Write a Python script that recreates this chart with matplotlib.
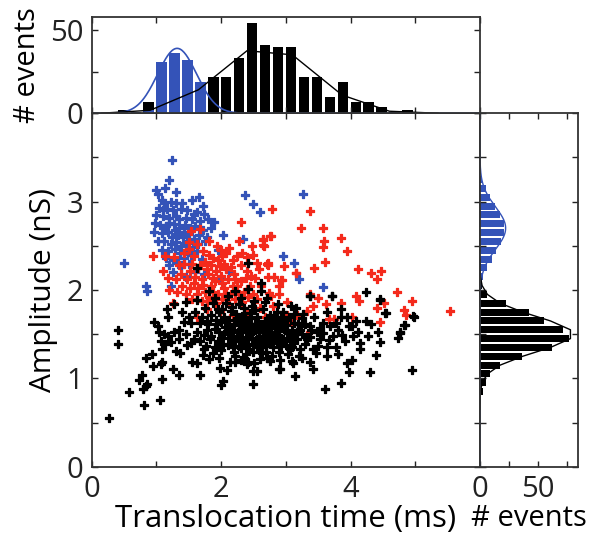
import numpy as np
import matplotlib.pyplot as plt

plt.rcParams['font.family'] = ['Open Sans', 'DejaVu Sans']

# translocation time (ms), amplitude (nS) for each event
blue_events = np.array([
    (1.24, 3.47), (1.19, 3.25), (1.00, 3.13), (1.02, 3.09), (1.14, 3.16), (1.31, 3.11),
    (1.08, 3.02), (1.12, 2.98), (1.22, 3.00), (1.30, 2.99), (1.40, 2.98), (1.55, 3.02),
    (1.66, 3.05), (1.04, 2.93), (1.16, 2.92), (1.25, 2.90), (1.38, 2.92), (1.48, 2.90),
    (1.62, 2.88), (1.74, 2.86), (1.72, 2.95), (1.00, 2.85), (1.10, 2.84), (1.20, 2.82),
    (1.30, 2.84), (1.45, 2.82), (1.55, 2.80), (1.68, 2.78), (1.80, 2.80), (0.98, 2.76),
    (1.06, 2.74), (1.15, 2.72), (1.27, 2.75), (1.35, 2.70), (1.44, 2.74), (1.52, 2.70),
    (1.60, 2.72), (1.72, 2.68), (1.89, 2.77), (1.85, 2.70), (0.97, 2.66), (1.09, 2.64),
    (1.18, 2.66), (1.24, 2.60), (1.33, 2.62), (1.41, 2.60), (1.50, 2.63), (1.58, 2.58),
    (1.66, 2.62), (1.78, 2.60), (1.02, 2.56), (1.12, 2.55), (1.22, 2.52), (1.30, 2.54),
    (1.38, 2.50), (1.47, 2.53), (1.56, 2.49), (1.64, 2.52), (1.75, 2.55), (1.08, 2.45),
    (1.18, 2.44), (1.28, 2.46), (1.36, 2.42), (1.45, 2.44), (1.54, 2.40), (1.62, 2.44),
    (1.15, 2.36), (1.25, 2.34), (1.33, 2.32), (1.42, 2.36), (1.50, 2.30), (1.20, 2.28),
    (1.38, 2.26), (2.03, 2.62), (2.34, 2.58), (2.37, 3.08), (2.49, 2.97), (2.60, 2.88),
    (3.27, 3.09), (2.95, 2.38), (3.12, 2.31), (3.21, 2.13), (3.57, 2.03), (0.50, 2.31),
    (0.85, 1.99), (1.95, 2.45), (1.60, 2.20), (1.70, 2.35), (2.12, 2.20), (1.98, 2.12),
    (1.25, 2.20), (1.45, 2.15), (1.10, 2.90), (1.35, 2.80), (1.28, 2.68), (1.42, 2.66),
    (1.20, 2.76), (1.58, 2.86), (1.12, 2.70), (1.48, 2.56), (0.84, 2.05), (1.22, 2.05),
    (1.74, 2.18),
])

red_events = np.array([
    (2.78, 2.92), (3.37, 2.89), (3.23, 2.70), (3.58, 2.70), (3.85, 2.59), (3.59, 2.55),
    (3.57, 2.49), (3.95, 2.44), (3.60, 2.32), (3.43, 2.25), (2.97, 2.27), (3.16, 2.19),
    (2.94, 2.11), (4.11, 2.24), (4.32, 2.19), (4.47, 2.21), (4.41, 2.13), (2.64, 2.57),
    (2.64, 2.51), (2.77, 2.61), (2.72, 2.31), (2.72, 2.28), (2.46, 2.16), (2.72, 2.15),
    (2.82, 2.15), (2.92, 2.11), (2.89, 2.05), (3.15, 2.19), (4.72, 1.98), (4.95, 1.88),
    (5.54, 1.76), (4.08, 1.93), (4.13, 1.88), (4.41, 1.80), (4.51, 1.85), (4.82, 1.77),
    (4.85, 1.72), (4.46, 1.64), (3.85, 1.85), (3.62, 1.84), (3.49, 1.91), (2.74, 1.97),
    (2.77, 1.93), (2.49, 1.95), (3.67, 1.67), (3.74, 1.67), (4.02, 1.70), (3.37, 1.95),
    (3.42, 1.82), (3.32, 1.76), (3.09, 1.63), (3.02, 1.72), (3.17, 1.72), (3.37, 1.52),
    (3.02, 1.86), (2.30, 2.77), (2.76, 2.61), (2.65, 2.58), (2.66, 2.50), (0.94, 2.39),
    (1.14, 2.38), (1.27, 2.37), (1.42, 2.42), (1.50, 2.46), (1.53, 2.67), (1.68, 2.69),
    (1.50, 2.54), (1.94, 2.50), (2.08, 2.42), (2.25, 2.39), (2.40, 2.37), (2.55, 2.31),
    (2.71, 2.29), (1.55, 2.30), (1.65, 2.25), (1.75, 2.32), (1.85, 2.28), (1.95, 2.34),
    (2.05, 2.30), (2.15, 2.26), (1.60, 2.15), (1.70, 2.12), (1.80, 2.18), (1.90, 2.10),
    (2.00, 2.16), (2.10, 2.12), (2.20, 2.18), (2.30, 2.10), (2.40, 2.22), (1.65, 2.02),
    (1.75, 1.98), (1.85, 2.05), (1.95, 1.96), (2.05, 2.02), (2.15, 1.95), (2.25, 2.04),
    (2.35, 1.98), (2.45, 2.05), (1.55, 1.90), (1.70, 1.88), (1.82, 1.92), (1.92, 1.85),
    (2.02, 1.90), (2.12, 1.84), (2.22, 1.90), (2.32, 1.86), (2.55, 1.90), (2.62, 2.05),
    (1.40, 2.05), (1.30, 2.12), (1.20, 2.00), (1.45, 1.95), (1.78, 1.78), (1.98, 1.75),
    (2.18, 1.72), (2.40, 1.76), (2.60, 1.80), (2.80, 1.82), (2.90, 1.95), (1.35, 2.28),
    (1.25, 1.85), (1.62, 1.70), (1.10, 2.22), (2.50, 2.40), (1.82, 2.40), (2.30, 2.28),
    (2.68, 1.70), (2.20, 1.62), (2.00, 2.45),
    (1.58, 2.38), (1.72, 2.44), (1.88, 2.36), (2.02, 2.38), (2.18, 2.34), (2.32, 2.42),
    (1.52, 2.22), (1.68, 2.28), (1.78, 2.24), (1.92, 2.22), (2.08, 2.24), (2.22, 2.12),
    (2.38, 2.14), (1.58, 2.08), (1.72, 2.06), (1.88, 2.14), (2.02, 2.08), (2.18, 2.04),
    (2.28, 1.96), (1.62, 1.96), (1.78, 1.88), (1.88, 1.98), (2.08, 1.96), (2.42, 1.92),
    (1.48, 2.12), (1.38, 2.18), (1.32, 1.98), (1.52, 2.02), (2.52, 2.14), (2.58, 2.24),
    (1.42, 2.30), (1.18, 2.14), (1.98, 2.27), (2.12, 2.47), (1.62, 2.52), (1.82, 2.55),
    (2.28, 2.55), (2.48, 2.50),
])

black_events = np.array([
    (0.26, 0.55), (0.81, 0.70), (1.06, 0.76), (0.57, 0.85), (0.80, 0.88), (0.84, 0.91),
    (0.86, 0.94), (0.73, 0.98), (1.08, 0.99), (0.84, 1.23), (0.93, 1.27), (0.95, 1.14),
    (1.07, 1.16), (1.09, 1.19), (1.25, 1.11), (1.35, 1.04), (0.40, 1.55), (0.40, 1.39),
    (0.97, 1.64), (1.03, 1.59), (1.04, 1.52), (1.11, 1.50), (1.18, 1.48), (1.07, 1.42),
    (1.13, 1.39), (1.22, 1.41), (1.09, 1.33), (1.17, 1.79), (1.18, 1.70), (1.27, 1.52),
    (1.35, 1.55), (1.42, 1.64), (1.31, 1.31), (1.36, 1.29), (1.48, 1.38), (1.53, 1.40),
    (1.27, 1.84), (1.45, 1.86), (1.63, 1.89), (1.55, 1.19), (1.63, 1.17), (1.68, 1.04),
    (1.73, 1.33), (1.53, 1.63), (1.68, 1.63), (1.78, 1.65), (1.62, 1.53), (1.96, 1.23),
    (1.99, 1.12), (2.09, 1.10), (2.00, 0.93), (2.03, 0.97), (2.14, 1.19), (2.22, 1.19),
    (2.35, 1.23), (2.40, 1.16), (2.50, 1.08), (2.49, 0.94), (2.55, 1.08), (2.89, 1.11),
    (0.77, 1.04), (3.60, 0.88), (3.86, 0.95), (3.98, 1.07), (4.30, 1.07), (4.95, 1.09),
    (3.14, 1.03), (2.91, 1.11), (3.09, 1.20), (3.25, 1.23), (3.42, 1.11), (3.38, 1.19),
    (3.63, 1.25), (3.81, 1.27), (3.94, 1.17), (4.03, 1.21), (4.14, 1.33), (4.40, 1.26),
    (4.45, 1.41), (4.42, 1.52), (4.27, 1.48), (4.73, 1.46), (4.76, 1.52), (4.83, 1.60),
    (4.98, 1.70), (4.55, 1.74), (4.24, 1.65), (4.32, 1.61), (4.24, 1.98), (4.45, 1.90),
    (3.86, 1.78), (3.86, 1.70), (3.71, 1.93), (3.37, 1.93), (4.12, 1.52), (4.02, 1.59),
    (3.94, 1.70), (4.09, 1.65), (4.04, 1.48), (4.14, 1.40), (3.91, 1.42), (3.78, 1.36),
    (3.73, 1.48), (3.68, 1.59), (3.81, 1.55), (3.58, 1.63), (3.53, 1.44), (3.63, 1.36),
    (3.42, 1.33), (3.22, 1.33), (3.07, 1.33), (3.17, 1.44), (3.32, 1.44), (3.48, 1.52),
    (3.02, 1.52), (3.22, 1.55), (3.37, 1.59), (3.12, 1.63), (2.96, 1.63), (2.62, 2.08),
    (3.38, 1.93), (3.72, 1.93), (4.46, 1.89), (4.54, 1.74), (4.97, 1.71), (4.84, 1.60),
    (4.77, 1.51), (2.42, 2.31), (1.62, 2.25),
    (1.75, 1.80), (1.85, 1.72), (1.95, 1.78), (2.05, 1.70), (2.15, 1.76), (2.25, 1.68),
    (2.35, 1.80), (2.45, 1.74), (2.55, 1.70), (2.65, 1.78), (2.75, 1.72), (2.85, 1.66),
    (2.95, 1.75), (3.05, 1.70), (3.15, 1.80), (3.25, 1.68), (1.80, 1.62), (1.90, 1.56),
    (2.00, 1.64), (2.10, 1.58), (2.20, 1.62), (2.30, 1.55), (2.40, 1.64), (2.50, 1.58),
    (2.60, 1.62), (2.70, 1.55), (2.80, 1.60), (2.90, 1.54), (3.00, 1.60), (3.10, 1.55),
    (3.30, 1.62), (1.85, 1.48), (1.95, 1.42), (2.05, 1.50), (2.15, 1.44), (2.25, 1.48),
    (2.35, 1.40), (2.45, 1.50), (2.55, 1.44), (2.65, 1.48), (2.75, 1.42), (2.85, 1.50),
    (2.95, 1.44), (3.05, 1.46), (3.25, 1.50), (1.90, 1.36), (2.00, 1.32), (2.10, 1.38),
    (2.20, 1.30), (2.30, 1.34), (2.40, 1.38), (2.50, 1.30), (2.60, 1.35), (2.70, 1.30),
    (2.80, 1.36), (2.90, 1.30), (3.00, 1.38), (2.18, 1.55), (2.28, 1.60), (2.38, 1.52),
    (2.48, 1.46), (2.58, 1.52), (2.68, 1.65), (2.78, 1.48), (2.88, 1.58), (2.52, 1.62),
    (2.42, 1.45), (2.62, 1.40), (2.32, 1.66), (2.72, 1.60), (2.22, 1.42), (2.12, 1.66),
    (2.02, 1.46), (1.92, 1.66), (2.82, 1.68), (2.92, 1.46), (3.02, 1.66), (3.12, 1.40),
    (2.56, 1.56), (2.46, 1.68), (2.66, 1.45), (2.36, 1.58), (2.76, 1.52), (2.86, 1.40),
    (2.26, 1.52), (2.16, 1.48), (2.06, 1.58), (1.96, 1.52), (1.70, 1.70), (1.78, 1.55),
    (1.88, 1.85), (2.08, 1.85), (2.28, 1.84), (2.48, 1.82), (2.68, 1.86), (2.88, 1.84),
    (3.08, 1.82), (1.60, 1.75), (1.50, 1.70), (1.40, 1.75), (1.35, 1.45), (1.45, 1.50),
    (1.58, 1.45), (1.68, 1.42), (1.72, 1.26), (1.82, 1.22), (2.60, 1.22), (2.75, 1.20),
    (3.20, 1.25),
    (2.33, 1.71), (2.43, 1.61), (2.53, 1.77), (2.63, 1.57), (2.73, 1.67), (2.83, 1.53),
    (2.93, 1.69), (3.03, 1.51), (3.13, 1.73), (3.23, 1.59), (3.33, 1.47), (3.43, 1.69),
    (3.53, 1.57), (3.63, 1.75), (1.83, 1.45), (1.93, 1.61), (2.03, 1.39), (2.13, 1.53),
    (2.23, 1.73), (2.33, 1.47), (2.43, 1.33), (2.53, 1.55), (2.63, 1.29), (2.73, 1.47),
    (2.83, 1.63), (2.93, 1.37), (3.03, 1.27), (3.13, 1.49), (2.19, 1.35), (2.29, 1.43),
    (2.39, 1.27), (2.49, 1.39), (2.59, 1.47), (2.69, 1.37), (2.79, 1.25), (2.89, 1.43),
    (2.99, 1.55), (3.09, 1.35), (3.19, 1.61), (3.29, 1.39), (3.39, 1.55), (3.49, 1.37),
    (1.73, 1.49), (1.77, 1.37), (1.87, 1.29), (1.97, 1.75), (2.07, 1.65), (2.17, 1.81),
    (2.27, 1.37), (2.37, 1.69), (2.47, 1.57), (2.57, 1.63), (2.67, 1.39), (2.77, 1.57),
    (2.87, 1.75), (2.97, 1.59), (3.07, 1.43), (3.17, 1.53), (3.27, 1.73), (3.37, 1.47),
    (3.47, 1.29), (3.57, 1.51), (3.67, 1.43), (3.77, 1.63), (3.87, 1.49), (3.97, 1.59),
    (2.21, 1.25), (2.41, 1.19), (2.31, 1.21), (2.51, 1.17), (2.71, 1.23), (2.91, 1.21),
    (3.11, 1.17), (1.91, 1.91), (2.11, 1.93), (2.31, 1.91), (2.51, 1.87), (2.71, 1.91),
    (2.61, 1.99), (2.41, 2.01), (2.21, 1.99), (1.81, 1.99), (2.01, 1.79), (2.57, 1.41),
    (2.45, 1.56), (2.65, 1.52), (2.55, 1.36), (2.35, 1.62), (2.75, 1.64), (2.85, 1.46),
])

# translocation time histogram, 0.2 ms bins
time_bins = np.arange(0.08, 5.0, 0.2)
time_black = [0, 0, 2, 1, 7, 4, 6, 8, 12, 22, 22, 33, 54, 41, 40, 40, 22, 22, 10, 19, 7, 7, 4, 1, 2]
time_blue = [0, 0, 1, 1, 2, 31, 36, 32, 19, 1, 1, 1, 1, 1, 0, 1, 1, 0, 1, 0, 0, 0, 0, 0, 0]

# amplitude histogram, 0.1 nS bins
amp_bins = np.arange(0.75, 3.4, 0.1)
amp_black = [1, 3, 5, 9, 17, 36, 62, 76, 71, 55, 42, 22, 6, 2, 0, 0, 0, 0, 0, 0, 0, 0, 0, 0, 0, 0, 0]
amp_blue = [0, 0, 0, 0, 0, 0, 0, 0, 0, 0, 0, 0, 0, 1, 3, 6, 10, 14, 18, 21, 21, 17, 13, 9, 5, 2, 1]

# gaussian fit parameters: amplitude, centre, width
fit_time_blue = (39, 1.32, 0.30)
fit_time_black = (41, 2.70, 0.72)
fit_amp_blue = (22, 2.70, 0.24)
fit_amp_black = (80, 1.50, 0.20)


def gauss(x, p):
    a, mu, s = p
    return a * np.exp(-(x - mu) ** 2 / (2 * s ** 2))


blue = '#3453b8'
red = '#f42a1c'
fs = 21

fig = plt.figure(figsize=(5.99, 5.33), dpi=100)
ax = fig.add_axes([0.1531, 0.1244, 0.6482, 0.6630])
ax_top = fig.add_axes([0.1531, 0.7874, 0.6482, 0.1812])
ax_right = fig.add_axes([0.8013, 0.1244, 0.1636, 0.6630])

# filled plus markers with a thin outline in the same colour, so they read as blobs
for pts, c in ((blue_events, blue), (red_events, red), (black_events, 'k')):
    ax.scatter(pts[:, 0], pts[:, 1], s=28, marker='P', color=c, edgecolors=c, lw=0.9)

ax_top.bar(time_bins, time_black, width=0.16, color='k')
ax_top.bar(time_bins, time_blue, width=0.16, color=blue)
t = np.linspace(0, 6, 400)
ax_top.plot(t, gauss(t, fit_time_blue), color=blue, lw=1.2)
t_coarse = np.array([0.15, 0.9, 1.65, 2.4, 3.1, 3.87, 4.6, 5.35])
ax_top.plot(t_coarse, gauss(t_coarse, fit_time_black), color='k', lw=1.0)

ax_right.barh(amp_bins, amp_black, height=0.078, color='k')
ax_right.barh(amp_bins, amp_blue, height=0.078, color=blue)
a = np.linspace(0, 4, 400)
ax_right.plot(gauss(a, fit_amp_blue), a, color=blue, lw=1.0)
a_coarse = np.arange(0.65, 2.4, 0.1)
ax_right.plot(gauss(a_coarse, fit_amp_black), a_coarse, color='k', lw=1.0)

ax.set_xlim(0, 6)
ax.set_ylim(0, 4)
ax.set_xticks(np.arange(0, 7, 1))
ax.set_xticklabels(['0', '', '2', '', '4', '', ''])
ax.set_yticks(np.arange(0, 4.5, 0.5))
ax.set_yticklabels(['0', '', '1', '', '2', '', '3', '', ''])
ax.set_xlabel('Translocation time (ms)', fontsize=22.5, labelpad=0)
ax.set_ylabel('Amplitude (nS)', fontsize=21.5, labelpad=6)

ax_top.set_xlim(0, 6)
ax_top.set_ylim(0, 58)
ax_top.set_xticks(np.arange(0, 7, 1))
ax_top.set_xticklabels([])
ax_top.set_yticks([0, 25, 50])
ax_top.set_yticklabels(['0', '', '50'])
ax_top.set_ylabel('# events', fontsize=fs, labelpad=6)

ax_right.set_ylim(0, 4)
ax_right.set_xlim(0, 84)
ax_right.set_yticks(np.arange(0, 4.5, 0.5))
ax_right.set_yticklabels([])
ax_right.set_xticks([0, 25, 50, 75])
ax_right.set_xticklabels(['0', '', '50', ''])
ax_right.set_xlabel('# events', fontsize=fs, labelpad=0)

for a_ in (ax, ax_top, ax_right):
    a_.tick_params(direction='in', length=4, width=1, top=True, right=True,
                   labelsize=fs, colors='#222222', pad=6)
    for sp in a_.spines.values():
        sp.set_linewidth(1.3)
        sp.set_color('#333333')

fig.savefig('out.png', dpi=100)
